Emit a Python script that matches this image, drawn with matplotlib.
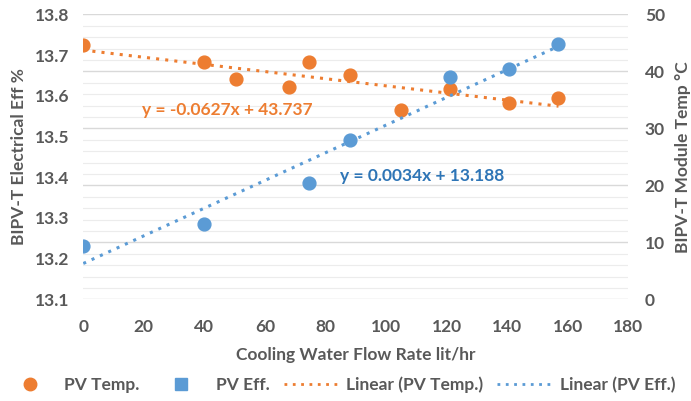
import numpy as np
import matplotlib
matplotlib.use("Agg")
import matplotlib.pyplot as plt
from matplotlib.lines import Line2D
from matplotlib.ticker import MultipleLocator

# flow rate (lit/hr) for each measurement
flow_temp = [0, 40, 50.5, 68, 74.5, 88, 105, 121, 140.5, 157]
pv_temp = [44.7, 41.6, 38.7, 37.2, 41.6, 39.4, 33.3, 37.0, 34.5, 35.3]

flow_eff = [0, 40, 74.5, 88, 121, 140.5, 157]
pv_eff = [13.231, 13.285, 13.386, 13.491, 13.647, 13.665, 13.727]

# trendline coefficients as printed on the chart
temp_fit = (-0.0627, 43.737)
eff_fit = (0.0034, 13.188)

orange = "#ED7D31"
blue = "#5B9BD5"
grey = "#595959"

plt.rcParams['font.family'] = ['Lato', 'DejaVu Sans']
plt.rcParams['font.weight'] = 'bold'
plt.rcParams['axes.labelweight'] = 'bold'

fig = plt.figure(figsize=(6.91, 4.01), dpi=100)
ax1 = fig.add_axes([0.1205, 0.2536, 0.909 - 0.1205, 0.964 - 0.2536])
ax2 = ax1.twinx()
# left axis drawn above the right one, grid comes from the right axis
ax1.set_zorder(ax2.get_zorder() + 1)
ax1.patch.set_visible(False)

ax1.set_xlim(0, 180)
ax1.set_ylim(13.1, 13.8)
ax2.set_ylim(0, 50)
ax1.xaxis.set_major_locator(MultipleLocator(20))
ax2.yaxis.set_major_locator(MultipleLocator(10))
ax2.xaxis.set_minor_locator(MultipleLocator(4))
ax2.yaxis.set_minor_locator(MultipleLocator(2))

ax2.grid(True, which='major', color='#d9d9d9', lw=1.0)
ax2.grid(True, which='minor', color='#ececec', lw=0.8)

for ax in (ax1, ax2):
    for s in ax.spines.values():
        s.set_visible(False)
    ax.tick_params(which='both', length=0, colors=grey, labelsize=12.5)

ax1.tick_params(axis='y', pad=10)
ax2.tick_params(axis='y', pad=12)
ax1.tick_params(axis='x', pad=14)
ax2.tick_params(axis='x', labelbottom=False)
yt = np.arange(13.1, 13.81, 0.1)
ax1.set_yticks(yt)
ax1.set_yticklabels(["%.1f" % v for v in yt])
for t in ax1.get_xticklabels() + ax1.get_yticklabels() + ax2.get_yticklabels():
    t.set_fontweight('bold')

# trendlines
xt = np.array([0, max(flow_temp)])
ax2.plot(xt, temp_fit[0] * xt + temp_fit[1], ls=(0, (1, 2)), color=orange, lw=2.2, zorder=2)
xe = np.array([0, max(flow_eff)])
ax1.plot(xe, eff_fit[0] * xe + eff_fit[1], ls=(0, (1, 2)), color=blue, lw=2.2, zorder=2)

ax2.scatter(flow_temp, pv_temp, s=85, color=orange, zorder=3)
ax1.scatter(flow_eff, pv_eff, s=85, color=blue, zorder=3)

ax1.text(47.5, 13.565, "y = -0.0627x + 43.737", color=orange, fontsize=12.5,
         ha='center', va='center', fontweight='bold')
ax1.text(112, 13.403, "y = 0.0034x + 13.188", color="#2E75B6", fontsize=12.5,
         ha='center', va='center', fontweight='bold')

ax1.set_xlabel("Cooling Water Flow Rate lit/hr", color=grey, fontsize=12.5, labelpad=9)
ax1.set_ylabel("BIPV-T Electrical Eff %", color=grey, fontsize=12.5, labelpad=6)
ax2.set_ylabel("BIPV-T Module Temp °C", color=grey, fontsize=12.5, labelpad=7)

handles = [
    Line2D([], [], ls='none', marker='o', ms=9, color=orange),
    Line2D([], [], ls='none', marker='s', ms=8, color=blue),
    Line2D([], [], ls=(0, (1, 2)), lw=2, color=orange),
    Line2D([], [], ls=(0, (1, 2)), lw=2, color=blue),
]
labels = ["PV Temp.", "PV Eff.", "Linear (PV Temp.)", "Linear (PV Eff.)"]
leg = fig.legend(handles, labels, loc='center', bbox_to_anchor=(0.49, 0.041), ncol=4,
                 frameon=False, fontsize=12.5, handlelength=3.2, handletextpad=0.4,
                 columnspacing=0.8, borderpad=0)
for t in leg.get_texts():
    t.set_color(grey)
    t.set_fontweight('bold')

fig.savefig("out.png", dpi=100)
